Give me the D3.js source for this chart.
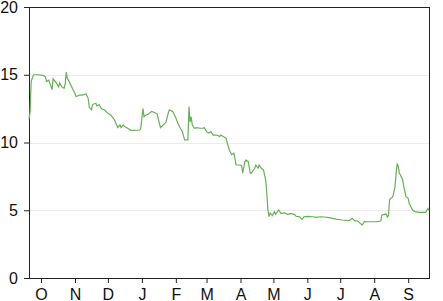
<!DOCTYPE html>
<html>
<head>
<meta charset="utf-8">
<script src="https://cdn.jsdelivr.net/npm/d3@7"></script>
<style>
  body { margin: 0; background: #fff; }
  .axis text { font-family: "Liberation Sans", Arial, sans-serif; font-size: 16px; fill: #111; }
  .axis path, .axis line { stroke: #222; }
  .grid line { stroke: #ececec; }
  .frame { fill: none; stroke: #222; }
  .line { fill: none; stroke: #66b057; stroke-width: 1.2; }
</style>
</head>
<body>
<div id="chart"></div>
<script>
// readings, one date per value
var dates = [
  "2013-09-20","2013-09-21","2013-09-22","2013-09-24","2013-09-28","2013-10-03","2013-10-05","2013-10-06",
  "2013-10-08","2013-10-11","2013-10-12","2013-10-15","2013-10-17","2013-10-18","2013-10-20","2013-10-22",
  "2013-10-23","2013-10-24","2013-10-25","2013-10-26","2013-10-29","2013-11-01","2013-11-02","2013-11-05",
  "2013-11-08","2013-11-11","2013-11-13","2013-11-14","2013-11-16","2013-11-17","2013-11-20","2013-11-21",
  "2013-11-23","2013-11-25","2013-11-28","2013-12-01","2013-12-04","2013-12-07","2013-12-09","2013-12-10",
  "2013-12-12","2013-12-13","2013-12-15","2013-12-16","2013-12-19","2013-12-22","2013-12-25","2013-12-30",
  "2013-12-31","2014-01-02","2014-01-03","2014-01-04","2014-01-07","2014-01-10","2014-01-13","2014-01-15",
  "2014-01-17","2014-01-18","2014-01-20","2014-01-23","2014-01-25","2014-01-26","2014-01-29","2014-01-31",
  "2014-02-03","2014-02-05","2014-02-07","2014-02-09","2014-02-12","2014-02-13","2014-02-14","2014-02-15",
  "2014-02-16","2014-02-18","2014-02-20","2014-02-23","2014-02-26","2014-02-27","2014-03-01","2014-03-03",
  "2014-03-05","2014-03-07","2014-03-10","2014-03-13","2014-03-14","2014-03-17","2014-03-19","2014-03-20",
  "2014-03-22","2014-03-24","2014-03-26","2014-03-28","2014-03-31","2014-04-02","2014-04-03","2014-04-05",
  "2014-04-06","2014-04-08","2014-04-10","2014-04-11","2014-04-14","2014-04-15","2014-04-17","2014-04-18",
  "2014-04-20","2014-04-22","2014-04-24","2014-04-25","2014-04-26","2014-04-27","2014-04-28","2014-04-30",
  "2014-05-02","2014-05-03","2014-05-06","2014-05-08","2014-05-11","2014-05-14","2014-05-17","2014-05-20",
  "2014-05-22","2014-05-25","2014-05-27","2014-05-29","2014-06-01","2014-06-06","2014-06-09","2014-06-13",
  "2014-06-16","2014-06-21","2014-06-27","2014-07-03","2014-07-09","2014-07-12","2014-07-14","2014-07-17",
  "2014-07-20","2014-07-21","2014-07-23","2014-07-27","2014-08-03","2014-08-07","2014-08-08","2014-08-12",
  "2014-08-13","2014-08-14","2014-08-15","2014-08-16","2014-08-18","2014-08-20","2014-08-21","2014-08-22",
  "2014-08-23","2014-08-24","2014-08-25","2014-08-27","2014-08-28","2014-08-30","2014-09-01","2014-09-02",
  "2014-09-05","2014-09-07","2014-09-11","2014-09-17","2014-09-19","2014-09-20"
];

var values = [
  11.7, 12.3, 14.5, 15.0, 15.0, 14.95, 14.85, 14.5,
  14.6, 13.9, 14.7, 14.4, 14.1, 14.4, 14.1, 14.0,
  14.3, 15.2, 14.7, 14.6, 14.1, 13.6, 13.4, 13.5,
  13.5, 13.6, 13.26, 12.6, 12.4, 12.8, 12.9, 12.7,
  12.8, 12.5, 12.4, 12.15, 12.0, 11.66, 11.3, 11.1,
  11.3, 11.1, 11.3, 11.2, 11.05, 10.9, 10.9, 10.92,
  11.05, 12.5, 11.9, 12.0, 12.1, 12.3, 12.2, 12.1,
  11.4, 11.1, 11.25, 11.5, 12.15, 12.4, 12.3, 12.0,
  11.4, 11.05, 10.8, 10.2, 10.2, 12.65, 11.5, 11.9,
  11.3, 11.05, 11.1, 11.05, 11.05, 11.1, 10.8, 10.7,
  10.8, 10.55, 10.55, 10.45, 10.55, 10.4, 10.3, 9.94,
  9.4, 9.1, 9.2, 8.34, 8.34, 8.3, 7.73, 8.58,
  8.7, 8.6, 7.73, 7.75, 8.1, 8.34, 8.1, 8.34,
  8.1, 7.97, 7.23, 6.25, 5.02, 4.52, 4.8, 4.6,
  4.9, 4.7, 5.02, 4.75, 4.8, 4.7, 4.75, 4.7,
  4.55, 4.52, 4.33, 4.52, 4.55, 4.52, 4.48, 4.52,
  4.5, 4.45, 4.35, 4.28, 4.23, 4.4, 4.23, 4.2,
  3.98, 3.91, 4.16, 4.15, 4.15, 4.2, 4.65, 4.72,
  4.5, 4.6, 5.76, 5.88, 6.0, 6.74, 7.73, 8.46,
  8.2, 7.73, 7.6, 7.23, 6.74, 6.0, 5.88, 5.5,
  5.02, 4.9, 4.85, 4.85, 5.14, 5.0
];

var dateExtent = ["2013-09-20", "2014-09-20"];
var yTicks = [0, 5, 10, 15, 20];
var gridTicks = [5, 10, 15];

var margin = {top: 7, right: 14, bottom: 23, left: 29};
var width = 443 - margin.left - margin.right;
var height = 301 - margin.top - margin.bottom;

var parse = d3.timeParse("%Y-%m-%d");
var data = dates.map(function(d, i) {
    return {date: parse(d), value: values[i]};
});

var svg = d3.select("#chart").append("svg")
    .attr("width", 443)
    .attr("height", 301)
  .append("g")
    .attr("transform", "translate(" + margin.left + "," + margin.top + ")");

var x = d3.scaleTime()
    .domain(dateExtent.map(parse))
    .range([0, width]);

var y = d3.scaleLinear()
    .domain([0, 20])
    .range([height, 0]);

// light horizontal grid
svg.append("g")
    .attr("class", "grid")
    .selectAll("line")
    .data(gridTicks)
    .enter()
    .append("line")
    .attr("x1", 0)
    .attr("x2", width)
    .attr("y1", function(d) { return Math.round(y(d)) + 0.5; })
    .attr("y2", function(d) { return Math.round(y(d)) + 0.5; });

var monthFormat = d3.timeFormat("%b");

svg.append("g")
    .attr("class", "axis")
    .attr("transform", "translate(0," + height + ")")
    .call(d3.axisBottom(x)
        .ticks(d3.timeMonth.every(1))
        .tickSize(5)
        .tickPadding(6)
        .tickSizeOuter(0)
        .tickFormat(function(d) { return monthFormat(d).charAt(0); }));

svg.append("g")
    .attr("class", "axis")
    .call(d3.axisLeft(y)
        .tickValues(yTicks)
        .tickSize(5)
        .tickPadding(6)
        .tickSizeOuter(0));

// box round the plot
svg.append("rect")
    .attr("class", "frame")
    .attr("x", 0.5)
    .attr("y", 0.5)
    .attr("width", width)
    .attr("height", height);

var line = d3.line()
    .x(function(d) { return x(d.date); })
    .y(function(d) { return y(d.value); });

svg.append("path")
    .datum(data)
    .attr("class", "line")
    .attr("d", line);
</script>
</body>
</html>
